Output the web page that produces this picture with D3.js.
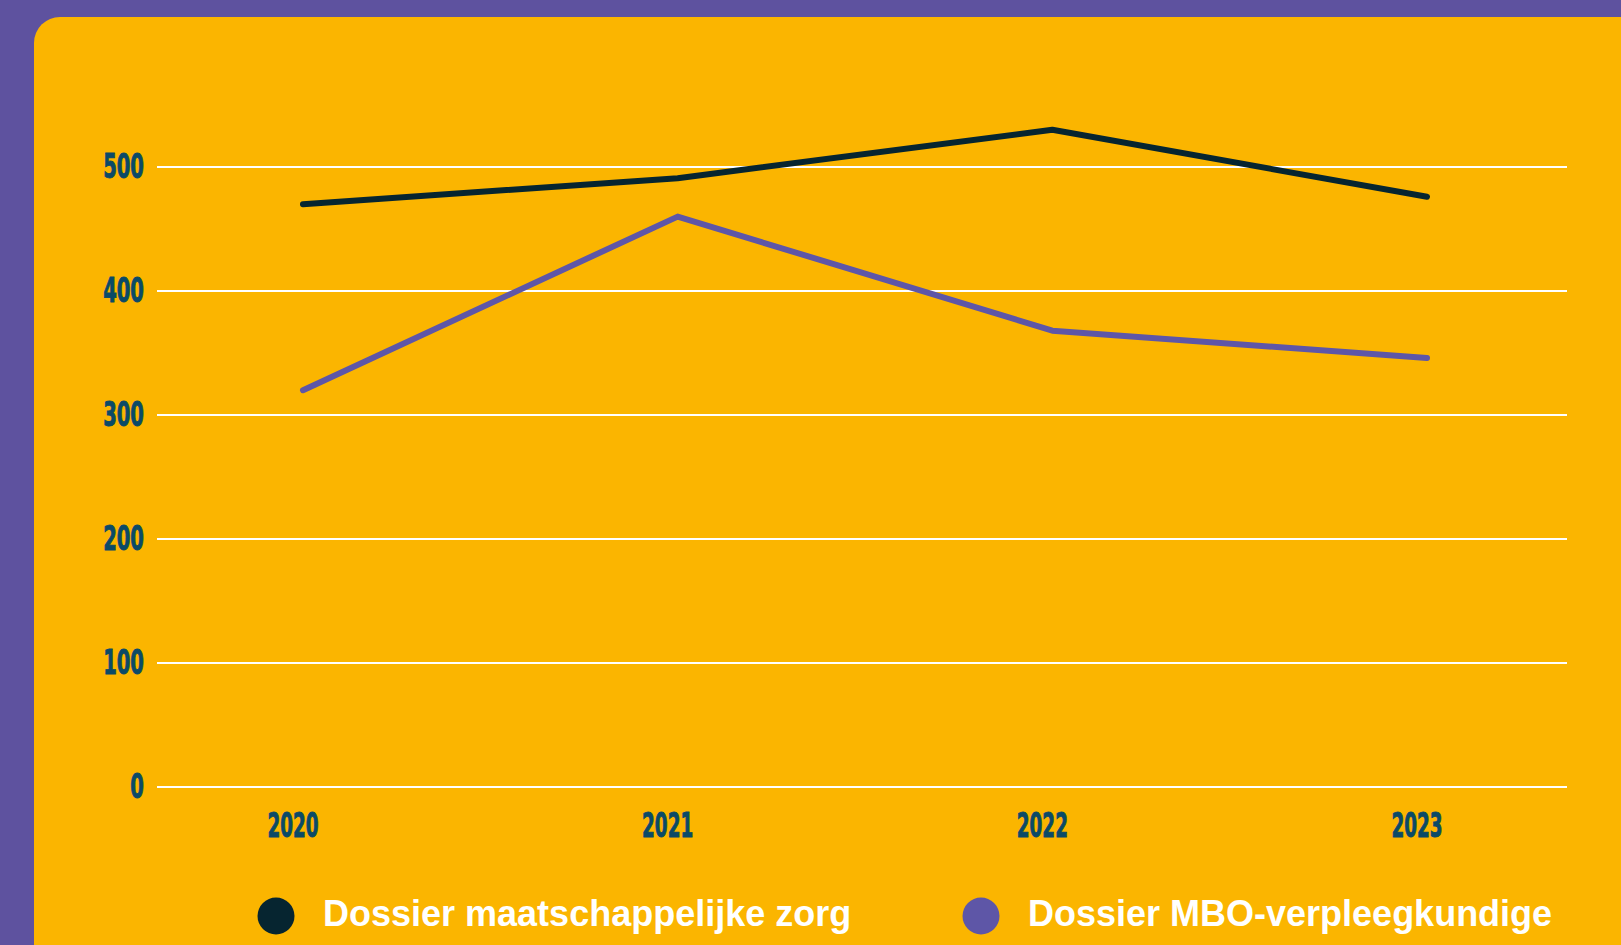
<!DOCTYPE html>
<html>
<head>
<meta charset="utf-8">
<script src="https://cdn.jsdelivr.net/npm/d3@7"></script>
<style>
  body { margin: 0; background: #5e529f; overflow: hidden; }
</style>
</head>
<body>
<svg id="chart" width="1621" height="945"></svg>
<script>
// data
var years = ["2020", "2021", "2022", "2023"];
var maatschappelijk = [470, 491, 530, 476];
var mbo = [320, 460, 368, 346];
var yTicks = [0, 100, 200, 300, 400, 500];
var legendLabels = ["Dossier maatschappelijke zorg", "Dossier MBO-verpleegkundige"];
var colors = ["#062530", "#5e56a7"];

var svg = d3.select("#chart");

// yellow panel
svg.append("rect")
  .attr("x", 34)
  .attr("y", 17)
  .attr("width", 1640)
  .attr("height", 1000)
  .attr("rx", 26)
  .attr("fill", "#fbb500");

var x = d3.scalePoint()
  .domain(years)
  .range([303, 1427]);

var y = d3.scaleLinear()
  .domain([0, 500])
  .range([787, 167]);

// gridlines
svg.append("g")
  .selectAll("line")
  .data(yTicks)
  .enter()
  .append("line")
  .attr("x1", 157)
  .attr("x2", 1567)
  .attr("y1", function(d) { return y(d); })
  .attr("y2", function(d) { return y(d); })
  .attr("stroke", "#ffffff")
  .attr("stroke-width", 2.2);

// y tick labels
svg.append("g")
  .selectAll("text")
  .data(yTicks)
  .enter()
  .append("text")
  .attr("transform", function(d) { return "translate(144," + (y(d) + 11) + ") scale(0.64,1)"; })
  .attr("text-anchor", "end")
  .style("font-family", "'Liberation Sans Narrow', 'DejaVu Sans Condensed', sans-serif")
  .style("font-weight", "bold")
  .style("font-size", "34px")
  .style("fill", "#0b4a67")
  .style("stroke", "#0b4a67")
  .style("stroke-width", 0.9)
  .text(function(d) { return d; });

// x tick labels
svg.append("g")
  .selectAll("text")
  .data(years)
  .enter()
  .append("text")
  .attr("transform", function(d) { return "translate(" + (x(d) - 10) + ",837) scale(0.62,1)"; })
  .attr("text-anchor", "middle")
  .style("font-family", "'Liberation Sans Narrow', 'DejaVu Sans Condensed', sans-serif")
  .style("font-weight", "bold")
  .style("font-size", "33px")
  .style("fill", "#0b4a67")
  .style("stroke", "#0b4a67")
  .style("stroke-width", 0.9)
  .text(function(d) { return d; });

// lines
var line = d3.line()
  .x(function(d, i) { return x(years[i]); })
  .y(function(d) { return y(d); });

var series = [maatschappelijk, mbo];
svg.append("g")
  .selectAll("path")
  .data(series)
  .enter()
  .append("path")
  .attr("d", function(d) { return line(d); })
  .attr("fill", "none")
  .attr("stroke", function(d, i) { return colors[i]; })
  .attr("stroke-width", 6)
  .attr("stroke-linecap", "round")
  .attr("stroke-linejoin", "round");

// legend
var legendX = [276, 981];
var leg = svg.append("g")
  .selectAll("g")
  .data(legendLabels)
  .enter()
  .append("g")
  .attr("transform", function(d, i) { return "translate(" + legendX[i] + ",916)"; });

leg.append("circle")
  .attr("r", 18.5)
  .attr("fill", function(d, i) { return colors[i]; });

leg.append("text")
  .attr("x", 47)
  .attr("y", 10)
  .style("font-family", "'Liberation Sans', Arial, sans-serif")
  .style("font-weight", "bold")
  .style("font-size", "36px")
  .style("fill", "#ffffff")
  .text(function(d) { return d; });
</script>
</body>
</html>
